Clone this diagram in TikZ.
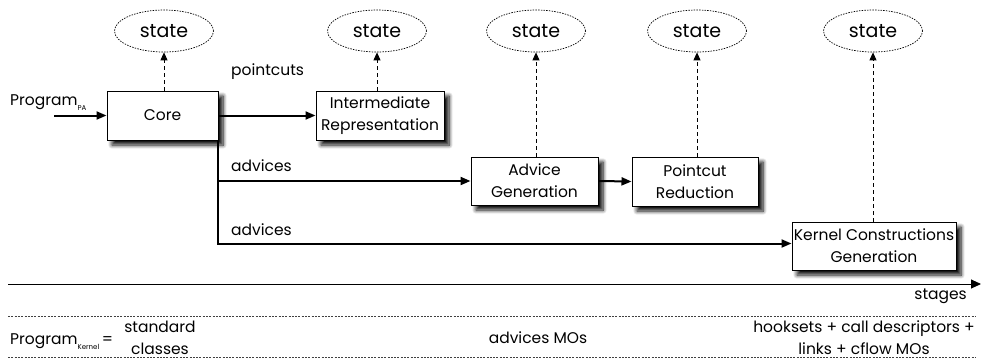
\documentclass[tikz,border=0pt]{standalone}
\usepackage{fontspec}
\setmainfont{Poppins}
\usetikzlibrary{arrows.meta,shapes.geometric,shadows.blur}

\begin{document}
\begin{tikzpicture}[x=1pt,y=-1pt,
  box/.style={draw,line width=1pt,fill=white,rectangle,inner sep=0pt,align=center,
    font=\fontsize{15.5}{22}\selectfont,
    blur shadow={shadow xshift=5pt,shadow yshift=-5pt,shadow blur radius=4pt,
      shadow blur steps=8,shadow opacity=95}},
  statebox/.style={draw,ellipse,dash pattern=on 1.5pt off 1.2pt,line width=0.7pt,
    minimum width=99pt,minimum height=42pt,inner sep=0pt,font=\fontsize{19}{21}\selectfont},
  flow/.style={line width=2pt,-{Triangle[length=10pt,width=8pt]}},
  statelink/.style={line width=0.9pt,dash pattern=on 4pt off 3pt,-{Triangle[length=8pt,width=7pt]}},
  lbl/.style={font=\fontsize{15.5}{22}\selectfont,inner sep=0pt,align=center},
  sep/.style={line width=0.7pt,dash pattern=on 2pt off 1.3pt,black!75}
]
\useasboundingbox (0,0) rectangle (981,360);

% processing stages
\node[box,minimum width=111pt,minimum height=49pt] (core) at (162.5,115.5) {Core};
\node[box,minimum width=128pt,minimum height=49pt] (ir) at (380,115.5) {Intermediate\\Representation};
\node[box,minimum width=127pt,minimum height=48pt] (ag) at (534.5,181) {Advice\\Generation};
\node[box,minimum width=126pt,minimum height=49pt] (pr) at (695,181.5) {Pointcut\\Reduction};
\node[box,minimum width=164pt,minimum height=48pt] (kc) at (874,246) {Kernel Constructions\\Generation};

% state of each stage
\node[statebox] (s1) at (164,31) {state};
\node[statebox] (s2) at (377,31) {state};
\node[statebox] (s3) at (536,31) {state};
\node[statebox] (s4) at (697,31) {state};
\node[statebox] (s5) at (873,31) {state};

\draw[statelink] (s1.south |- core.north) -- (s1.south);
\draw[statelink] (s2.south |- ir.north) -- (s2.south);
\draw[statelink] (s3.south |- ag.north) -- (s3.south);
\draw[statelink] (s4.south |- pr.north) -- (s4.south);
\draw[statelink] (s5.south |- kc.north) -- (s5.south);

% input program
\node[lbl,anchor=base west] (prog) at (10,105) {Program\raisebox{-0.6ex}{\fontsize{7}{7}\selectfont PA}};
\coordinate (pin) at (54,115.5);
\draw[flow] (pin) -- (core.west);

% data flow between stages
\draw[flow] (core.east) -- (ir.west);
\node[lbl,anchor=west] (lpc) at (231,72) {pointcuts};
\coordinate (fork) at ([xshift=-1pt]core.south east);
\draw[flow] (fork) |- (ag.west);
\node[lbl,anchor=west] (lad1) at (231,166) {advices};
\draw[flow] (fork) |- ([yshift=2.5pt]kc.west);
\node[lbl,anchor=west] (lad2) at (231,230) {advices};
\draw[flow] (ag.east) -- (pr.west);

% stages axis
\coordinate (ax0) at (8,284);
\coordinate (ax1) at (981,284);
\draw[line width=0.9pt,-{Triangle[length=10pt,width=9pt]}] (ax0) -- (ax1);
\node[lbl,anchor=east] (stg) at (967,296) {stages};

% resulting program
\coordinate (t0) at (8,316);
\coordinate (t1) at (976,316);
\coordinate (b0) at (8,357);
\coordinate (b1) at (976,357);
\draw[sep] (t0) -- (t1);
\draw[sep] (b0) -- (b1);
\node[lbl,anchor=base west] (pk) at (10,344) {Program\raisebox{-0.6ex}{\fontsize{7}{7}\selectfont Kernel}\,=};
\node[lbl] (std) at (160,338) {standard\\classes};
\node[lbl] (amo) at (538,338) {advices MOs};
\node[lbl] (hks) at (864,338) {hooksets + call descriptors +\\links + cflow MOs};
\end{tikzpicture}
\end{document}
